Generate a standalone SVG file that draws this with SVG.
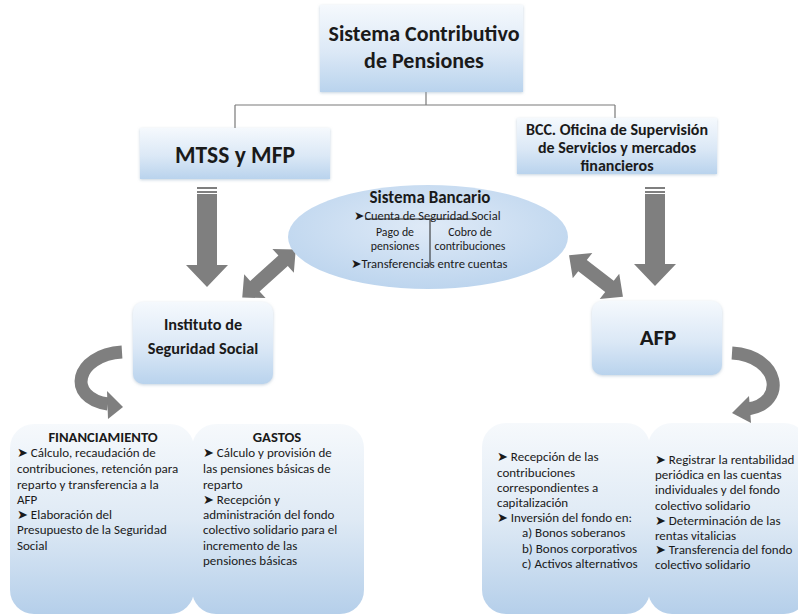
<svg xmlns="http://www.w3.org/2000/svg" width="798" height="614" viewBox="0 0 798 614">
<defs>
<linearGradient id="gBox" x1="0" y1="0" x2="0" y2="1">
<stop offset="0" stop-color="#f5f9fd"/>
<stop offset="0.55" stop-color="#dbe8f6"/>
<stop offset="1" stop-color="#b9d3ed"/>
</linearGradient>
<linearGradient id="gBig" x1="0" y1="0" x2="0" y2="1">
<stop offset="0" stop-color="#f6f9fc"/>
<stop offset="0.5" stop-color="#dfeaf5"/>
<stop offset="1" stop-color="#b5cfea"/>
</linearGradient>
<radialGradient id="gEll" cx="0.5" cy="0.4" r="0.6">
<stop offset="0" stop-color="#dfeaf7"/>
<stop offset="1" stop-color="#bdd5ee"/>
</radialGradient>
<filter id="sh" x="-10%" y="-10%" width="120%" height="130%">
<feDropShadow dx="0" dy="1" stdDeviation="1.5" flood-color="#8fa7c0" flood-opacity="0.5"/>
</filter>
<style>
.box{fill:url(#gBox);filter:url(#sh);}
.big{fill:url(#gBig);}
.t{font-family:Carlito,Lato,"DejaVu Sans",sans-serif;fill:#1a1a1a;}
.b{font-weight:bold;}
.c{text-anchor:middle;}
.body{font-size:13px;}
.arr{fill:#7f7f7f;}
.ln{stroke:#7a7a7a;stroke-width:1.2;fill:none;}
</style>
</defs>

<g id="connectors">
<path class="ln" d="M426 92 V105 M235 105 H615 M235 105 V128 M615 105 V118"/>
<!-- down arrows -->
<path class="arr" d="M197 194 H217 V265 H228 L207 287 L186 265 H197 Z"/>
<rect class="arr" x="197" y="187" width="20" height="2"/>
<rect class="arr" x="197" y="191" width="20" height="2"/>
<path class="arr" d="M645 194 H665 V264 H676 L655 286 L634 264 H645 Z"/>
<rect class="arr" x="645" y="187" width="20" height="2"/>
<rect class="arr" x="645" y="191" width="20" height="2"/>
<!-- double arrows -->
<polygon class="arr" transform="translate(269 273.5) rotate(-42)" points="-36,0 -19,-16 -19,-7 19,-7 19,-16 36,0 19,16 19,7 -19,7 -19,16"/>
<polygon class="arr" transform="translate(596 276) rotate(37.6)" points="-34,0 -17,-16 -17,-7 17,-7 17,-16 34,0 17,16 17,7 -17,7 -17,16"/>
<!-- curved arrows -->
<path d="M122 352 C75 355 66 398 108 404" stroke="#7f7f7f" stroke-width="13" fill="none"/>
<polygon class="arr" points="107,391 108,419 123,407"/>
<path d="M732 353 C780 356 787 403 748 409" stroke="#7f7f7f" stroke-width="13" fill="none"/>
<polygon class="arr" points="749,396 751,423 732,413"/>
</g>

<g id="sistema">
<rect class="box" x="320" y="5" width="203" height="87"/>
<text class="t b c" x="424" y="41" font-size="22">Sistema Contributivo</text>
<text class="t b c" x="424" y="68" font-size="22">de Pensiones</text>
</g>

<g id="mtss">
<rect class="box" x="140" y="128" width="190" height="51"/>
<text class="t b c" x="235" y="163" font-size="23.5">MTSS y MFP</text>
</g>

<g id="bcc">
<rect class="box" x="517" y="118" width="200" height="56"/>
<text class="t b c" x="617" y="135" font-size="16">BCC. Oficina de Supervisión</text>
<text class="t b c" x="617" y="153" font-size="16">de Servicios y mercados</text>
<text class="t b c" x="617" y="171" font-size="16">financieros</text>
</g>

<g id="banco">
<ellipse cx="428" cy="237" rx="140" ry="52" fill="url(#gEll)"/>
<text class="t b c" x="430" y="203" font-size="17">Sistema Bancario</text>
<text class="t" x="354" y="220" font-size="12.4">➤Cuenta de Seguridad Social</text>
<path d="M365 219 H477 M430 219 V267" stroke="#222" stroke-width="1" fill="none"/>
<text class="t c" x="395" y="236" font-size="11.8">Pago de</text>
<text class="t c" x="395" y="250" font-size="11.8">pensiones</text>
<text class="t c" x="470" y="236" font-size="11.8">Cobro de</text>
<text class="t c" x="470" y="250" font-size="11.8">contribuciones</text>
<text class="t" x="351" y="268" font-size="12.6">➤Transferencias entre cuentas</text>
</g>

<g id="instituto">
<rect class="box" x="133" y="302" width="140" height="82" rx="10"/>
<text class="t b c" x="203" y="330" font-size="16.3">Instituto de</text>
<text class="t b c" x="203" y="354" font-size="16.3">Seguridad Social</text>
</g>

<g id="afp">
<rect class="box" x="592" y="301" width="130" height="74" rx="10"/>
<text class="t b c" x="658" y="345" font-size="23">AFP</text>
</g>

<g id="financiamiento">
<rect class="big" x="10" y="424" width="184" height="190" rx="24"/>
<text class="t b c" x="103" y="442" font-size="14.6">FINANCIAMIENTO</text>
<text class="t body" x="17" y="457">➤ Cálculo, recaudación de</text>
<text class="t body" x="17" y="473">contribuciones, retención para</text>
<text class="t body" x="17" y="489">reparto y transferencia a la</text>
<text class="t body" x="17" y="504">AFP</text>
<text class="t body" x="17" y="519">➤ Elaboración del</text>
<text class="t body" x="17" y="534">Presupuesto de la Seguridad</text>
<text class="t body" x="17" y="550">Social</text>
</g>

<g id="gastos">
<rect class="big" x="192" y="424" width="172" height="190" rx="24"/>
<text class="t b c" x="277" y="442" font-size="14.6">GASTOS</text>
<text class="t body" x="203" y="457">➤ Cálculo y provisión de</text>
<text class="t body" x="203" y="473">las pensiones básicas de</text>
<text class="t body" x="203" y="489">reparto</text>
<text class="t body" x="203" y="504">➤ Recepción y</text>
<text class="t body" x="203" y="519">administración del fondo</text>
<text class="t body" x="203" y="534">colectivo solidario para el</text>
<text class="t body" x="203" y="550">incremento de las</text>
<text class="t body" x="203" y="565">pensiones básicas</text>
</g>

<g id="afp-capitalizacion">
<rect class="big" x="482" y="423" width="168" height="191" rx="24"/>
<text class="t body" x="497" y="461">➤ Recepción de las</text>
<text class="t body" x="497" y="477">contribuciones</text>
<text class="t body" x="497" y="492">correspondientes a</text>
<text class="t body" x="497" y="507">capitalización</text>
<text class="t body" x="497" y="522">➤ Inversión del fondo en:</text>
<text class="t body" x="522" y="537">a) Bonos soberanos</text>
<text class="t body" x="522" y="553">b) Bonos corporativos</text>
<text class="t body" x="522" y="568">c) Activos alternativos</text>
</g>

<g id="afp-registro">
<rect class="big" x="648" y="423" width="160" height="191" rx="24"/>
<text class="t body" x="655" y="464">➤ Registrar la rentabilidad</text>
<text class="t body" x="655" y="479">periódica en las cuentas</text>
<text class="t body" x="655" y="494">individuales y del fondo</text>
<text class="t body" x="655" y="510">colectivo solidario</text>
<text class="t body" x="655" y="525">➤ Determinación de las</text>
<text class="t body" x="655" y="540">rentas vitalicias</text>
<text class="t body" x="655" y="554">➤ Transferencia del fondo</text>
<text class="t body" x="655" y="569">colectivo solidario</text>
</g>
</svg>
